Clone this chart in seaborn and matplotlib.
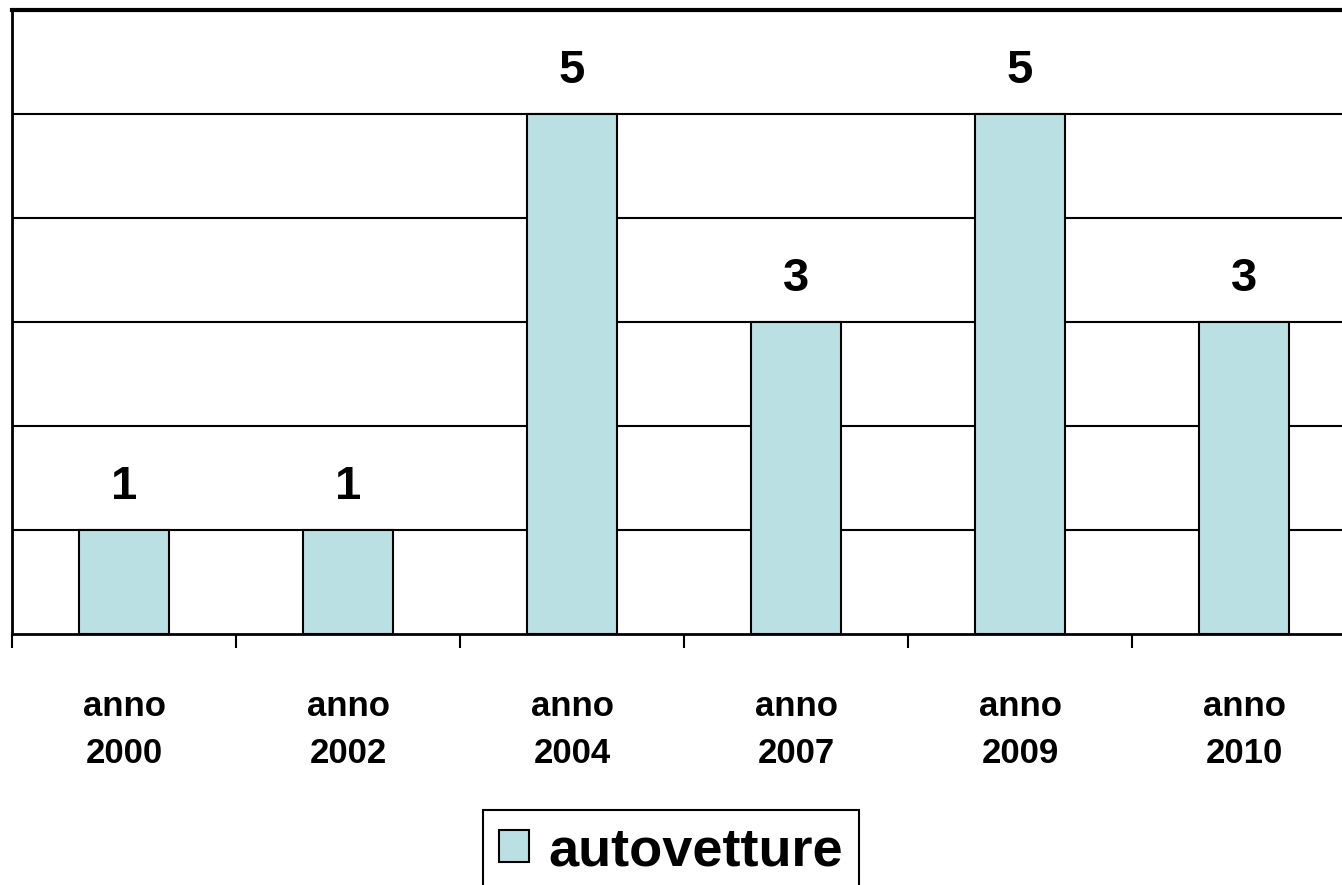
import pandas as pd
import matplotlib
matplotlib.use("Agg")
import matplotlib.pyplot as plt
import seaborn as sns
import numpy as np

anni = ["anno\n2000", "anno\n2002", "anno\n2004", "anno\n2007", "anno\n2009", "anno\n2010"]
autovetture = [1, 1, 5, 3, 5, 3]

df = pd.DataFrame({"anno": anni, "autovetture": autovetture})

sns.set_style("white")
plt.rcParams['font.family'] = ['Liberation Sans', 'DejaVu Sans']
plt.rcParams['text.color'] = 'black'
plt.rcParams['xtick.color'] = 'black'
plt.rcParams['xtick.labelcolor'] = 'black'

fig = plt.figure(figsize=(13.42, 8.85), dpi=100)
ax = fig.add_axes([12/1342, 1 - 634/885, 1344/1342, 624/885])

sns.barplot(data=df, x="anno", y="autovetture", color="#BBE0E3", edgecolor="black",
            linewidth=1.5, width=0.4, saturation=1, ax=ax, label="autovetture")

ax.set_ylim(0, 6)
ax.set_xlim(-0.5, 5.5)
ax.set_yticks(np.arange(1, 6))
ax.set_yticklabels([])
ax.tick_params(axis="y", length=0)
ax.yaxis.grid(True, color="black", linewidth=1.5)
ax.set_axisbelow(True)

# tacche tra le categorie
ax.set_xticks(np.arange(-0.5, 6, 1), minor=True)
ax.tick_params(axis="x", which="minor", bottom=True, length=10, width=1.5, color="black", direction="out")
ax.tick_params(axis="x", which="major", length=0, pad=40, labelsize=25)
for t in ax.get_xticklabels():
    t.set_fontweight("bold")
    t.set_linespacing(1.55)
    t.set_color("black")
ax.set_xlabel("")
ax.set_ylabel("")

for side in ["left", "top", "bottom"]:
    ax.spines[side].set_visible(True)
    ax.spines[side].set_color("black")
ax.spines["left"].set_linewidth(2)
ax.spines["top"].set_linewidth(3)
ax.spines["bottom"].set_linewidth(2)

ax.bar_label(ax.containers[0], fmt="%d", padding=15, fontsize=34, fontweight="bold", color="black")

if ax.legend_:
    ax.legend_.remove()
handles, labels = ax.get_legend_handles_labels()
leg = fig.legend(handles[:1], labels[:1], loc="upper center", bbox_to_anchor=(0.5, 1 - 810/885),
                 prop={"weight": "bold", "size": 39}, frameon=True, fancybox=False, framealpha=1,
                 edgecolor="black", handlelength=0.55, handleheight=0.55, handletextpad=0.35,
                 borderpad=0.3, borderaxespad=0)
leg.get_frame().set_linewidth(1.5)
for txt in leg.get_texts():
    txt.set_color("black")

fig.savefig("out.png", dpi=100)
